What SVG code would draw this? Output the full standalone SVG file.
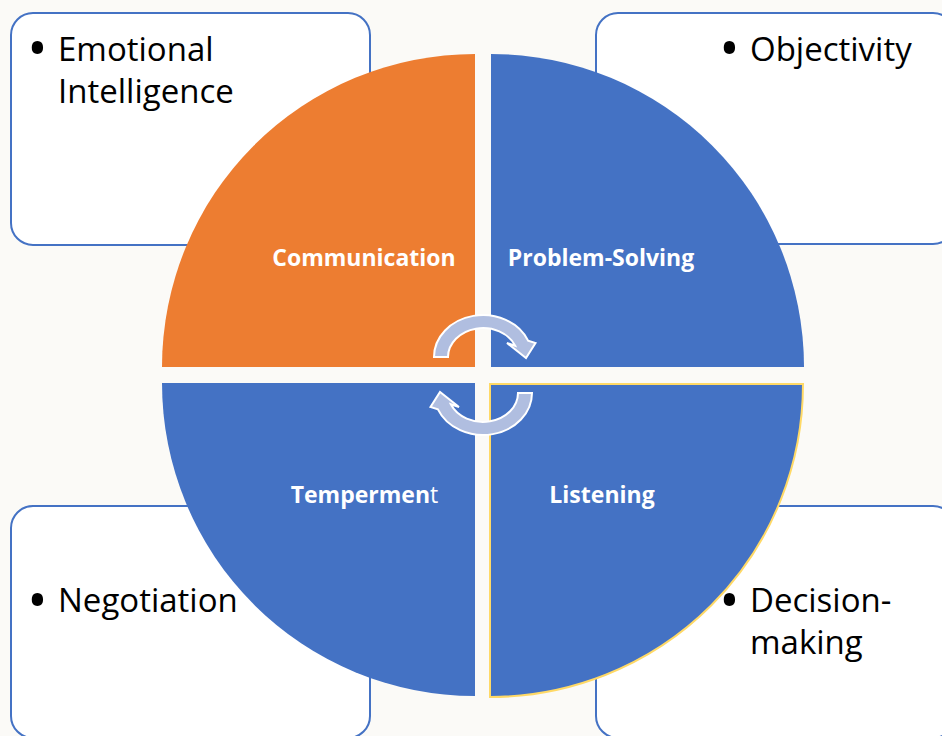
<svg xmlns="http://www.w3.org/2000/svg" width="942" height="736" viewBox="0 0 942 736">
<style>
.box{fill:#ffffff;stroke:#4472C4;stroke-width:2}
.item{font-family:"Open Sans","Liberation Sans",sans-serif;font-size:33px;fill:#000000}
.bul{font-family:"Open Sans","Liberation Sans",sans-serif;font-size:54px;fill:#000000;text-anchor:middle}
.lbl{font-family:"Open Sans","Liberation Sans",sans-serif;font-size:23px;font-weight:bold;fill:#ffffff;text-anchor:middle}
.arr{fill:#B0BEE0;stroke:#ffffff;stroke-width:2;stroke-linejoin:miter}
</style>
<rect x="0" y="0" width="942" height="736" fill="#FBFAF7"/>
<g id="box-emotional">
<rect class="box" x="11" y="13" width="359" height="232" rx="22"/>
</g>
<g id="box-objectivity">
<rect class="box" x="596" y="13" width="359" height="231" rx="22"/>
</g>
<g id="box-negotiation">
<rect class="box" x="11" y="506" width="359" height="232" rx="22"/>
</g>
<g id="box-decision">
<rect class="box" x="596" y="506" width="359" height="232" rx="22"/>
</g>
<g id="q-communication">
<path d="M475,367 L162,367 A313,313 0 0 1 475,54 Z" fill="#ED7D31"/>
<text class="lbl" x="364" y="266">Communication</text>
</g>
<g id="q-problem">
<path d="M491,367 L491,54 A313,313 0 0 1 804,367 Z" fill="#4472C4"/>
<text class="lbl" x="601" y="266">Problem-Solving</text>
</g>
<g id="q-temperment">
<path d="M475,383 L475,696 A313,313 0 0 1 162,383 Z" fill="#4472C4"/>
<text class="lbl" x="364.5" y="503">Tempermen<tspan font-weight="normal">t</tspan></text>
</g>
<g id="q-listening">
<path d="M490,384 L803,384 A313,313 0 0 1 490,697 Z" fill="#4472C4" stroke="#FFD966" stroke-width="2"/>
<text class="lbl" x="602" y="503">Listening</text>
</g>
<g id="connectors">
<path class="arr" d="M434,357 A49,42 0 0 1 528.1,340.6 L535.5,343 L526,358 L507,343 L515.2,345.7 A35,29 0 0 0 448,357 Z"/>
<path class="arr" transform="rotate(180 483 375)" d="M434,357 A49,42 0 0 1 528.1,340.6 L535.5,343 L526,358 L507,343 L515.2,345.7 A35,29 0 0 0 448,357 Z"/>
</g>
<g id="text-emotional">
<text class="bul" x="37.5" y="68">•</text>
<text class="item" x="58" y="61">Emotional</text>
<text class="item" x="58" y="103">Intelligence</text>
</g>
<g id="text-objectivity">
<text class="bul" x="729.5" y="68">•</text>
<text class="item" x="750" y="61">Objectivity</text>
</g>
<g id="text-negotiation">
<text class="bul" x="37.5" y="620">•</text>
<text class="item" x="58" y="612">Negotiation</text>
</g>
<g id="text-decision">
<text class="bul" x="729.5" y="620">•</text>
<text class="item" x="750" y="612">Decision-</text>
<text class="item" x="750" y="654">making</text>
</g>
</svg>
